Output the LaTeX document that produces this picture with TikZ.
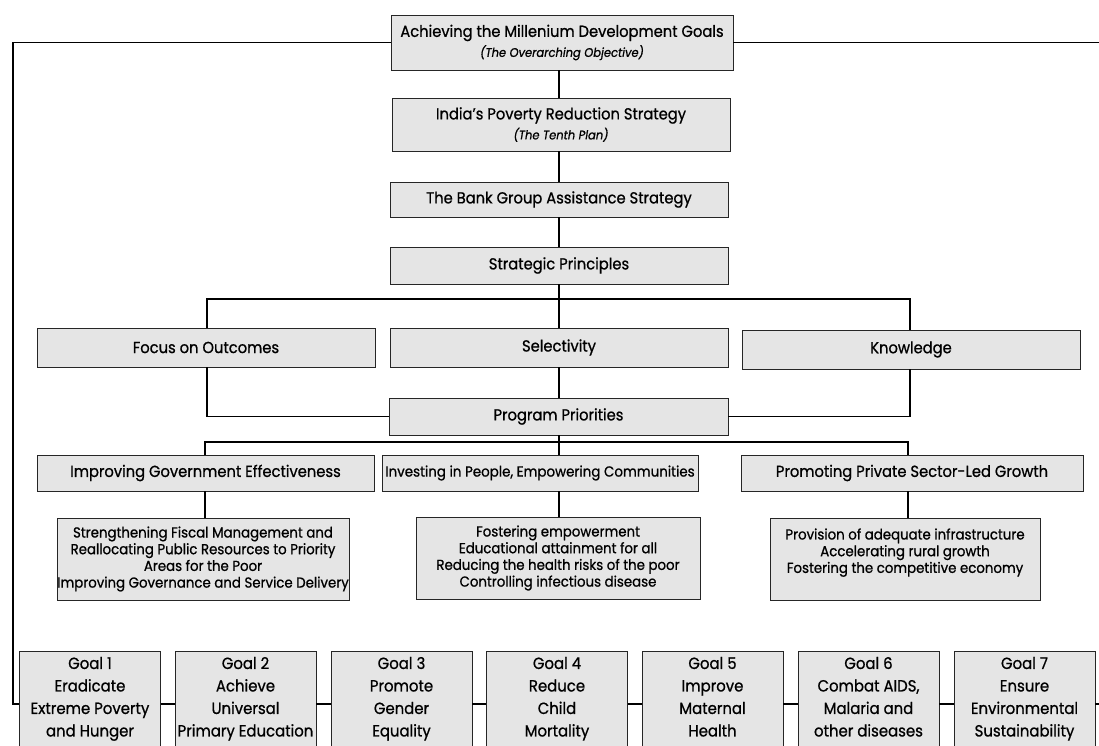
\documentclass[tikz,border=0pt]{standalone}
\usepackage{fontspec}
\setmainfont{Poppins}[FakeStretch=0.92,FakeBold=0.8]
\newcommand{\gtop}{\rule{0pt}{15.75pt}}
\newcommand{\gend}{\rule[-23pt]{0pt}{23pt}}
\begin{document}
\begin{tikzpicture}[x=1pt,y=-1pt,
  box/.style={draw=black!85, line width=0.7pt, fill=black!10, inner sep=0pt, align=center, font=\fontsize{16}{18}\selectfont},
  subbox/.style={box, font=\fontsize{14.5}{16.7}\selectfont},
  goal/.style={box, minimum width=141pt, minimum height=110pt, font=\fontsize{16.2}{22.5}\selectfont},
  conn/.style={line width=1.7pt, black},
]
\useasboundingbox (0,0) rectangle (1099,746);
\clip (0,0) rectangle (1099,746);
% coordinates for connector lines
\coordinate (mx) at (559,0);
\coordinate (lx) at (13,0);
\coordinate (rx) at (1105,0);
\coordinate (fx) at (207,0);
\coordinate (kx) at (910,0);
\coordinate (fx2) at (205,0);
\coordinate (kx2) at (908,0);
\coordinate (b1) at (0,299);
\coordinate (b2) at (0,442);
% top stack
\node[box, minimum width=342pt, minimum height=55pt] (t1) at (562,42.5)
  {Achieving the Millenium Development Goals\\[2pt]{\fontsize{12.5}{14}\selectfont\itshape (The Overarching Objective)}};
\node[box, minimum width=338pt, minimum height=53pt] (t2) at (561,124.5)
  {India’s Poverty Reduction Strategy\\[2pt]{\fontsize{12.5}{14}\selectfont\itshape (The Tenth Plan)}};
\node[box, minimum width=338pt, minimum height=35pt] (t3) at (559,199.5) {The Bank Group Assistance Strategy};
\node[box, minimum width=338pt, minimum height=37pt] (sp) at (559,265.5) {Strategic Principles};
% principles
\node[box, minimum width=338pt, minimum height=39pt] (foc) at (206,347.5) {Focus on Outcomes};
\node[box, minimum width=338pt, minimum height=39pt] (sel) at (559,347.5) {Selectivity};
\node[box, minimum width=338pt, minimum height=39pt] (kno) at (911,349.5) {Knowledge};
\node[box, minimum width=339pt, minimum height=37pt] (pp) at (558.5,416.5) {Program Priorities};
% priorities
\node[box, minimum width=337pt, minimum height=36pt] (ige) at (205.5,473) {Improving Government Effectiveness};
\node[box, minimum width=316pt, minimum height=36pt, font=\fontsize{14.6}{18}\selectfont] (ipe) at (540,473) {Investing in People, Empowering Communities};
\node[box, minimum width=342pt, minimum height=36pt] (pps) at (912,473) {Promoting Private Sector-Led Growth};
% sub boxes
\node[subbox, minimum width=292pt, minimum height=82pt] (s1) at (203,559)
  {Strengthening Fiscal Management and\\Reallocating Public Resources to Priority\\Areas for the Poor\\Improving Governance and Service Delivery};
\node[subbox, minimum width=284pt, minimum height=82pt] (s2) at (558,558)
  {Fostering empowerment\\Educational attainment for all\\Reducing the health risks of the poor\\Controlling infectious disease};
\node[subbox, minimum width=270pt, minimum height=82pt] (s3) at (905,559)
  {Provision of adequate infrastructure\\Accelerating rural growth\\Fostering the competitive economy\\\mbox{}};
% goals
\node[goal, anchor=north] (g1) at (90,651) {\gtop Goal 1\\Eradicate\\Extreme Poverty\\and Hunger\gend};
\node[goal, anchor=north] (g2) at (245.5,651) {\gtop Goal 2\\Achieve\\Universal\\Primary Education\gend};
\node[goal, anchor=north] (g3) at (401.5,651) {\gtop Goal 3\\Promote\\Gender\\Equality\gend};
\node[goal, anchor=north] (g4) at (557,651) {\gtop Goal 4\\Reduce\\Child\\Mortality\gend};
\node[goal, anchor=north] (g5) at (712.5,651) {\gtop Goal 5\\Improve\\Maternal\\Health\gend};
\node[goal, anchor=north] (g6) at (868.5,651) {\gtop Goal 6\\Combat AIDS,\\Malaria and\\other diseases\gend};
\node[goal, anchor=north] (g7) at (1024.5,651) {\gtop Goal 7\\Ensure\\Environmental\\Sustainability\gend};
\coordinate (gy) at (0,704);
\coordinate (rend) at (1105,704);
% connectors
\draw[conn] (t1.west) -- (t1.west -| lx) -- (lx |- gy) -- (g1.west |- gy);
\draw[conn] (t1.east) -- (t1.east -| rx);
\draw[conn] (t1.south -| mx) -- (t2.north -| mx);
\draw[conn] (t2.south -| mx) -- (t3.north -| mx);
\draw[conn] (t3.south -| mx) -- (sp.north -| mx);
\draw[conn] (sp.south -| mx) -- (sel.north -| mx);
\draw[conn] (foc.north -| fx) -- (fx |- b1) -- (kx |- b1) -- (kno.north -| kx);
\draw[conn] (sel.south -| mx) -- (pp.north -| mx);
\draw[conn] (foc.south -| fx) |- (pp.west);
\draw[conn] (kno.south -| kx) |- (pp.east);
\draw[conn] (pp.south -| mx) -- (ipe.north -| mx);
\draw[conn] (ige.north -| fx2) -- (fx2 |- b2) -- (kx2 |- b2) -- (pps.north -| kx2);
\draw[conn] (ige.south -| fx2) -- (s1.north -| fx2);
\draw[conn] (ipe.south -| mx) -- (s2.north -| mx);
\draw[conn] (pps.south -| kx2) -- (s3.north -| kx2);
\draw[conn] (g1.east |- gy) -- (g2.west |- gy);
\draw[conn] (g2.east |- gy) -- (g3.west |- gy);
\draw[conn] (g3.east |- gy) -- (g4.west |- gy);
\draw[conn] (g4.east |- gy) -- (g5.west |- gy);
\draw[conn] (g5.east |- gy) -- (g6.west |- gy);
\draw[conn] (g6.east |- gy) -- (g7.west |- gy);
\draw[conn] (g7.east |- gy) -- (rend);
\end{tikzpicture}
\end{document}
